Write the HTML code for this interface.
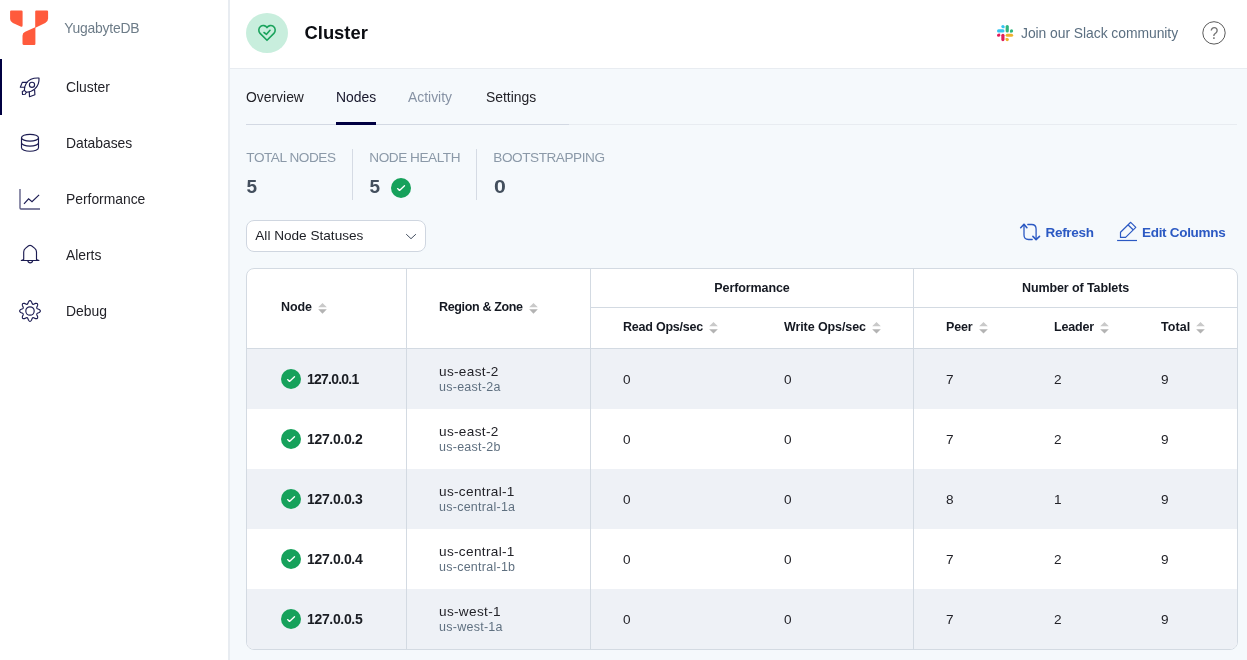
<!DOCTYPE html>
<html lang="en">
<head>
<meta charset="utf-8">
<title>YugabyteDB - Cluster Nodes</title>
<style>
*{box-sizing:border-box;margin:0;padding:0}
html,body{width:1247px;height:660px;overflow:hidden}
body{position:relative;will-change:transform;background:#f5f9fc;font-family:"Liberation Sans",sans-serif;color:#232329;-webkit-font-smoothing:antialiased}
.abs{position:absolute}
svg{position:absolute;overflow:visible}
.t{position:absolute;white-space:nowrap;line-height:1}

/* sidebar */
#sidebar{position:absolute;left:0;top:0;width:230px;height:660px;background:#fff;border-right:2px solid #e8ecf1}
#activebar{position:absolute;left:0;top:59px;width:2px;height:56px;background:#000041}
.nav{position:absolute;left:66px;font-size:13.9px;letter-spacing:-.02px;color:#232329;white-space:nowrap;line-height:1}
#brand{position:absolute;left:64.2px;top:22.1px;font-size:13.9px;letter-spacing:-.2px;color:#6d7c88;line-height:1;white-space:nowrap}

/* header */
#header{position:absolute;left:230px;top:0;width:1017px;height:69px;background:#fff;border-bottom:1px solid #e8ecf1}
#hcircle{position:absolute;left:246px;top:13px;width:42px;height:40px;border-radius:50%;background:#c8eedd}
#title{position:absolute;left:304.5px;top:24px;font-size:18.4px;font-weight:bold;color:#0b0d12;line-height:1;white-space:nowrap}
#slack{position:absolute;left:1021px;top:26.5px;font-size:13.9px;letter-spacing:-.05px;color:#5b6f81;line-height:1;white-space:nowrap}

/* tabs */
#tabline{position:absolute;left:246px;top:124px;width:991px;height:1px;background:#e8ecf1}
#tabline2{position:absolute;left:246px;top:124px;width:323px;height:1px;background:#d3d9e3}
#tabul{position:absolute;left:336px;top:122px;width:40px;height:3px;background:#000041}
.tab{position:absolute;top:90.5px;font-size:13.9px;letter-spacing:0;line-height:1;white-space:nowrap;color:#232329}

/* stats */
.slabel{position:absolute;top:150.7px;margin-left:.3px;font-size:13.6px;line-height:1;color:#8b99a8;white-space:nowrap;letter-spacing:-.45px}
.sval{position:absolute;top:177px;margin-left:.5px;font-size:19px;font-weight:bold;line-height:1;color:#434f5d;white-space:nowrap}
.sdiv{position:absolute;top:149px;width:1px;height:51px;background:#d5dbe4}

/* select */
#select{position:absolute;left:246px;top:220px;width:180px;height:32px;border:1px solid #cfd6e0;border-radius:8px;background:#fff}
#select span{position:absolute;left:8.3px;top:7.7px;letter-spacing:0;font-size:13.6px;line-height:1;color:#1b1d23;white-space:nowrap}

.btn{position:absolute;top:225.7px;margin-left:-.5px;font-size:13.5px;letter-spacing:-.3px;font-weight:bold;color:#2b59c3;line-height:1;white-space:nowrap}

/* table */
#tbl{position:absolute;left:246px;top:268px;width:992px;height:382px;border:1px solid #d3dae2;border-radius:8px;background:#fff;overflow:hidden}
table{border-collapse:separate;border-spacing:0;width:990px;table-layout:fixed}
th,td{text-align:left;vertical-align:middle;font-weight:normal;padding:0 0 0 32px;white-space:nowrap}
th{font-size:12.5px;letter-spacing:-.1px;font-weight:bold;color:#151922;border-bottom:1px solid #d3dae2}
.br{border-right:1px solid #d3dae2}
tr.h1 th{height:39px}
tr.h2 th{height:41px;padding-bottom:2px}
th.grp{text-align:center;padding:0}
th.tall{height:80px;padding-bottom:3px}
td{height:60px;font-size:13.6px;color:#232329}
tbody tr:nth-child(odd) td{background:#eef1f6}
.sort{position:static;display:inline-block;margin-left:6.1px;vertical-align:-2.6px;letter-spacing:0}
.sort.s2{vertical-align:-2.8px}
td.node{padding-left:34px}
th.node{padding-left:34px}
.chk{display:inline-block;width:20px;height:20px;border-radius:50%;background:#16a15b;vertical-align:middle;position:relative;margin-right:6px}
.chk svg{left:0;top:0}
.ip1{letter-spacing:-.77px !important}
.ip{font-weight:bold;font-size:14px;letter-spacing:-.34px;color:#1a1d23;vertical-align:middle}
.rg{display:block;letter-spacing:.33px;font-size:13.6px;line-height:15px;color:#232329}
.zn{display:block;position:relative;top:1px;letter-spacing:.26px;font-size:12.5px;line-height:15px;color:#5f7080}
</style>
</head>
<body>

<!-- SIDEBAR -->
<div id="sidebar">
  <svg style="left:0;top:0" width="60" height="56" viewBox="0 0 60 56">
    <path fill="#ff5a3c" d="M11.2,10.4 H21.5 Q22.6,10.4 22.6,11.5 V25.3 Q22.6,27.5 20.6,26.6 L12.9,23 Q10.1,21.7 10.1,18.9 V11.5 Q10.1,10.4 11.2,10.4 Z"/>
    <path fill="#ff5a3c" d="M36.3,10.4 H47 Q48.1,10.4 48.1,11.5 V18.6 Q48.1,21.7 45.2,23.1 L35.4,27.8 V43.7 Q35.4,44.9 34.3,44.9 H23.6 Q22.5,44.9 22.5,43.8 V35.7 Q22.5,32.9 25.2,31.7 L35.2,27.3 V11.5 Q35.2,10.4 36.3,10.4 Z"/>
  </svg>
  <div id="brand">YugabyteDB</div>
  <div id="activebar"></div>

  <!-- rocket -->
  <svg style="left:14px;top:70px" width="32" height="32" viewBox="14 70 32 32" fill="none" stroke="#1c1c52" stroke-width="1.15" stroke-linejoin="round" stroke-linecap="round">
    <path d="M39,78 C33.5,77.7 28.8,79.6 26.3,83.2 C25,85.3 24.3,87.8 24.4,90.4 L26.4,92.3 C29.5,92.2 32.6,91 34.9,88.9 C37.8,86.2 39.3,82.4 39,78 Z"/>
    <circle cx="32" cy="84.8" r="2.6"/>
    <path d="M26.9,82.4 H22.3 L20.3,87.2 H24.7"/>
    <path d="M34.6,90.1 L34.9,94.8 L29.5,96.7 L29.3,92"/>
    <path d="M24.4,90.4 L22.3,91.4 L22.5,94.5 L25.2,94.3 L26.4,92.3"/>
  </svg>
  <div class="nav" style="top:80.7px">Cluster</div>

  <!-- database -->
  <svg style="left:14px;top:126px" width="32" height="32" viewBox="14 126 32 32" fill="none" stroke="#1c1c52" stroke-width="1.15">
    <ellipse cx="30" cy="137.7" rx="8.5" ry="3.4"/>
    <path d="M21.5,137.7 V147.8 A8.5,3.4 0 0 0 38.5,147.8 V137.7"/>
    <path d="M21.5,142.7 A8.5,3.4 0 0 0 38.5,142.7"/>
  </svg>
  <div class="nav" style="top:136.7px">Databases</div>

  <!-- performance -->
  <svg style="left:14px;top:182px" width="32" height="32" viewBox="14 182 32 32" fill="none" stroke="#1c1c52" stroke-width="1.2">
    <path d="M20,189 V208 Q20,209 21,209 H40" stroke="#55557f" stroke-width="1.3"/>
    <path d="M24,203.8 L28.6,198.8 L32,201.7 L39.1,194.9"/>
  </svg>
  <div class="nav" style="top:192.7px">Performance</div>

  <!-- alerts -->
  <svg style="left:14px;top:238px" width="32" height="32" viewBox="14 238 32 32" fill="none" stroke="#1c1c52" stroke-width="1.15" stroke-linejoin="round">
    <path d="M23.7,259.6 V252 Q23.7,249.8 25.4,248.4 L28.6,245.8 Q30,244.9 31.5,245.8 L34.8,248.4 Q36.5,249.8 36.5,252 V259.6 L38.9,260.5 H21.3 Z"/>
    <path d="M27.8,260.6 Q28.2,262.9 30.2,262.9 Q32.3,262.9 32.7,260.6"/>
  </svg>
  <div class="nav" style="top:248.7px">Alerts</div>

  <!-- debug -->
  <svg style="left:14px;top:294px" width="32" height="32" viewBox="14 294 32 32" fill="none" stroke="#1c1c52" stroke-width="1.15" stroke-linejoin="round">
    <path d="M27.81,303.62 L28.53,301.72 Q30.00,299.50 31.47,301.72 L32.19,303.62 Q32.68,304.53 33.67,304.23 L35.53,303.40 Q38.13,302.87 37.60,305.47 L36.77,307.33 Q36.47,308.32 37.38,308.81 L39.28,309.53 Q41.50,311.00 39.28,312.47 L37.38,313.19 Q36.47,313.68 36.77,314.67 L37.60,316.53 Q38.13,319.13 35.53,318.60 L33.67,317.77 Q32.68,317.47 32.19,318.38 L31.47,320.28 Q30.00,322.50 28.53,320.28 L27.81,318.38 Q27.32,317.47 26.33,317.77 L24.47,318.60 Q21.87,319.13 22.40,316.53 L23.23,314.67 Q23.53,313.68 22.62,313.19 L20.72,312.47 Q18.50,311.00 20.72,309.53 L22.62,308.81 Q23.53,308.32 23.23,307.33 L22.40,305.47 Q21.87,302.87 24.47,303.40 L26.33,304.23 Q27.32,304.53 27.81,303.62 Z"/>
    <circle cx="30" cy="311" r="4.2"/>
  </svg>
  <div class="nav" style="top:304.7px">Debug</div>
</div>

<!-- HEADER -->
<div id="header"></div>
<div id="hcircle"></div>
<svg style="left:255px;top:21px" width="24" height="24" viewBox="255 21 24 24" fill="none" stroke="#1aa35c" stroke-width="1.6" stroke-linejoin="round" stroke-linecap="round">
  <path d="M267,27.6 C265.6,25.4 262.6,24.9 260.6,26.4 C258.4,28.1 258.2,31.3 260.1,33.4 L267,40.3 L273.9,33.4 C275.8,31.3 275.6,28.1 273.4,26.4 C271.4,24.9 268.4,25.4 267,27.6 Z"/>
  <path d="M264,32.5 L266.5,34.3 L270,30.3"/>
</svg>
<div id="title">Cluster</div>

<svg style="left:996.8px;top:25.1px" width="16.2" height="16.2" viewBox="0 0 16.3 16.3">
  <rect x="4.35" y="0" width="3.2" height="3.2" rx="1.6" fill="#36c5f0"/><rect x="5.9" y="1.6" width="1.65" height="1.6" fill="#36c5f0"/>
  <rect x="0" y="4.35" width="7.55" height="3.2" rx="1.6" fill="#36c5f0"/>
  <rect x="8.7" y="0" width="3.2" height="7.55" rx="1.6" fill="#2eb67d"/>
  <rect x="13.05" y="4.35" width="3.2" height="3.2" rx="1.6" fill="#2eb67d"/><rect x="13.05" y="5.9" width="1.6" height="1.65" fill="#2eb67d"/>
  <rect x="8.7" y="8.7" width="7.55" height="3.2" rx="1.6" fill="#ecb22e"/>
  <rect x="8.7" y="13.05" width="3.2" height="3.2" rx="1.6" fill="#ecb22e"/><rect x="8.7" y="13.05" width="1.6" height="1.6" fill="#ecb22e"/>
  <rect x="4.35" y="8.7" width="3.2" height="7.55" rx="1.6" fill="#e01e5a"/>
  <rect x="0" y="8.7" width="3.2" height="3.2" rx="1.6" fill="#e01e5a"/><rect x="1.6" y="8.7" width="1.6" height="1.6" fill="#e01e5a"/>
</svg>
<div id="slack">Join our Slack community</div>

<svg style="left:1196px;top:15px" width="36" height="36" viewBox="1196 15 36 36">
  <circle cx="1214" cy="32.9" r="11.2" fill="none" stroke="#5a5a5a" stroke-width="1"/>
  <text x="0" y="0" transform="translate(1214.1,38.8) scale(0.86,1)" text-anchor="middle" font-family="Liberation Sans, sans-serif" font-size="17.4" fill="#737373">?</text>
</svg>

<!-- TABS -->
<div id="tabline"></div>
<div id="tabline2"></div>
<div class="tab" style="left:246px">Overview</div>
<div class="tab" style="left:336px;color:#17172b">Nodes</div>
<div class="tab" style="left:408px;color:#8692a4">Activity</div>
<div class="tab" style="left:486px">Settings</div>
<div id="tabul"></div>

<!-- STATS -->
<div class="slabel" style="left:246px">TOTAL NODES</div>
<div class="sval" style="left:246px">5</div>
<div class="sdiv" style="left:352px"></div>
<div class="slabel" style="left:369px">NODE HEALTH</div>
<div class="sval" style="left:369px">5</div>
<div class="abs" style="left:391px;top:178px;width:20px;height:20px;border-radius:50%;background:#16a15b">
  <svg style="left:0;top:0" width="20" height="20" viewBox="0 0 20 20" fill="none" stroke="#fff" stroke-width="1.35" stroke-linecap="round" stroke-linejoin="round"><path d="M6.6,10.6 L8.5,12.4 L13.5,7.7"/></svg>
</div>
<div class="sdiv" style="left:476px"></div>
<div class="slabel" style="left:493px">BOOTSTRAPPING</div>
<div class="sval" style="left:493px;transform:scaleX(1.12);transform-origin:0 0">0</div>

<!-- SELECT -->
<div id="select"><span>All Node Statuses</span>
  <svg style="left:157px;top:11.1px" width="14" height="10" viewBox="0 0 14 10" fill="none" stroke="#455062" stroke-width="1"><path d="M2.2,2.2 L7,6.7 L11.9,2.2"/></svg>
</div>

<!-- BUTTONS -->
<svg style="left:1014px;top:216px" width="32" height="32" viewBox="1014 216 32 32" fill="none" stroke="#2b59c3" stroke-width="1.3" stroke-linecap="round" stroke-linejoin="round">
  <path d="M1032.2,239.5 H1028.5 Q1024,239.5 1024,235 V224.4"/>
  <path d="M1020.7,227.7 L1024,224.3 L1026.9,227.7" stroke-width="1.6"/>
  <path d="M1027.8,224.5 H1031.6 Q1036.1,224.5 1036.1,229 V239.4"/>
  <path d="M1032.9,236.4 L1036.1,239.6 L1039.5,236.4" stroke-width="1.6"/>
</svg>
<div class="btn" style="left:1046px">Refresh</div>
<svg style="left:1111px;top:216px" width="32" height="32" viewBox="1111 216 32 32" fill="none" stroke="#2b59c3" stroke-width="1.2" stroke-linejoin="round">
  <path d="M1117.1,240.5 H1137"/>
  <path d="M1130.7,222.3 L1135.8,227.4 L1125.6,237.4 H1120.5 V232.3 Z"/>
  <path d="M1128.2,225 L1133.1,229.8"/>
</svg>
<div class="btn" style="left:1142.5px">Edit Columns</div>

<!-- TABLE -->
<div id="tbl">
<table>
  <colgroup><col style="width:160px"><col style="width:184px"><col style="width:161px"><col style="width:162px"><col style="width:108px"><col style="width:107px"><col style="width:108px"></colgroup>
  <thead>
    <tr class="h1">
      <th rowspan="2" class="br node tall">Node<svg class="sort" width="9" height="11" viewBox="0 0 9 11"><polygon points="4.5,0.1 8.8,4.3 0.2,4.3" fill="#c9c9c9"/><polygon points="0.2,6.3 8.8,6.3 4.5,10.7" fill="#b3b3b3"/></svg></th>
      <th rowspan="2" class="br tall" style="letter-spacing:-.35px">Region &amp; Zone<svg class="sort" width="9" height="11" viewBox="0 0 9 11"><polygon points="4.5,0.1 8.8,4.3 0.2,4.3" fill="#c9c9c9"/><polygon points="0.2,6.3 8.8,6.3 4.5,10.7" fill="#b3b3b3"/></svg></th>
      <th colspan="2" class="br grp">Performance</th>
      <th colspan="3" class="grp">Number of Tablets</th>
    </tr>
    <tr class="h2">
      <th style="letter-spacing:-.22px">Read Ops/sec<svg class="sort s2" width="9" height="12" viewBox="0 0 9 12"><polygon points="4.5,0 8.8,4.2 0.2,4.2" fill="#c9c9c9"/><polygon points="0.2,7.2 8.8,7.2 4.5,11.5" fill="#b3b3b3"/></svg></th>
      <th class="br">Write Ops/sec<svg class="sort s2" width="9" height="12" viewBox="0 0 9 12"><polygon points="4.5,0 8.8,4.2 0.2,4.2" fill="#c9c9c9"/><polygon points="0.2,7.2 8.8,7.2 4.5,11.5" fill="#b3b3b3"/></svg></th>
      <th style="letter-spacing:-.17px">Peer<svg class="sort s2" width="9" height="12" viewBox="0 0 9 12"><polygon points="4.5,0 8.8,4.2 0.2,4.2" fill="#c9c9c9"/><polygon points="0.2,7.2 8.8,7.2 4.5,11.5" fill="#b3b3b3"/></svg></th>
      <th style="letter-spacing:-.17px">Leader<svg class="sort s2" width="9" height="12" viewBox="0 0 9 12"><polygon points="4.5,0 8.8,4.2 0.2,4.2" fill="#c9c9c9"/><polygon points="0.2,7.2 8.8,7.2 4.5,11.5" fill="#b3b3b3"/></svg></th>
      <th style="letter-spacing:.05px">Total<svg class="sort s2" width="9" height="12" viewBox="0 0 9 12"><polygon points="4.5,0 8.8,4.2 0.2,4.2" fill="#c9c9c9"/><polygon points="0.2,7.2 8.8,7.2 4.5,11.5" fill="#b3b3b3"/></svg></th>
    </tr>
  </thead>
  <tbody>
    <tr><td class="br node"><span class="chk"><svg width="20" height="20" viewBox="0 0 20 20" fill="none" stroke="#fff" stroke-width="1.35" stroke-linecap="round" stroke-linejoin="round"><path d="M6.6,10.6 L8.5,12.4 L13.5,7.7"/></svg></span><span class="ip ip1">127.0.0.1</span></td><td class="br"><span class="rg">us-east-2</span><span class="zn">us-east-2a</span></td><td>0</td><td class="br">0</td><td>7</td><td>2</td><td>9</td></tr>
    <tr><td class="br node"><span class="chk"><svg width="20" height="20" viewBox="0 0 20 20" fill="none" stroke="#fff" stroke-width="1.35" stroke-linecap="round" stroke-linejoin="round"><path d="M6.6,10.6 L8.5,12.4 L13.5,7.7"/></svg></span><span class="ip">127.0.0.2</span></td><td class="br"><span class="rg">us-east-2</span><span class="zn">us-east-2b</span></td><td>0</td><td class="br">0</td><td>7</td><td>2</td><td>9</td></tr>
    <tr><td class="br node"><span class="chk"><svg width="20" height="20" viewBox="0 0 20 20" fill="none" stroke="#fff" stroke-width="1.35" stroke-linecap="round" stroke-linejoin="round"><path d="M6.6,10.6 L8.5,12.4 L13.5,7.7"/></svg></span><span class="ip">127.0.0.3</span></td><td class="br"><span class="rg">us-central-1</span><span class="zn">us-central-1a</span></td><td>0</td><td class="br">0</td><td>8</td><td>1</td><td>9</td></tr>
    <tr><td class="br node"><span class="chk"><svg width="20" height="20" viewBox="0 0 20 20" fill="none" stroke="#fff" stroke-width="1.35" stroke-linecap="round" stroke-linejoin="round"><path d="M6.6,10.6 L8.5,12.4 L13.5,7.7"/></svg></span><span class="ip">127.0.0.4</span></td><td class="br"><span class="rg">us-central-1</span><span class="zn">us-central-1b</span></td><td>0</td><td class="br">0</td><td>7</td><td>2</td><td>9</td></tr>
    <tr><td class="br node"><span class="chk"><svg width="20" height="20" viewBox="0 0 20 20" fill="none" stroke="#fff" stroke-width="1.35" stroke-linecap="round" stroke-linejoin="round"><path d="M6.6,10.6 L8.5,12.4 L13.5,7.7"/></svg></span><span class="ip">127.0.0.5</span></td><td class="br"><span class="rg">us-west-1</span><span class="zn">us-west-1a</span></td><td>0</td><td class="br">0</td><td>7</td><td>2</td><td>9</td></tr>
  </tbody>
</table>
</div>

</body>
</html>
